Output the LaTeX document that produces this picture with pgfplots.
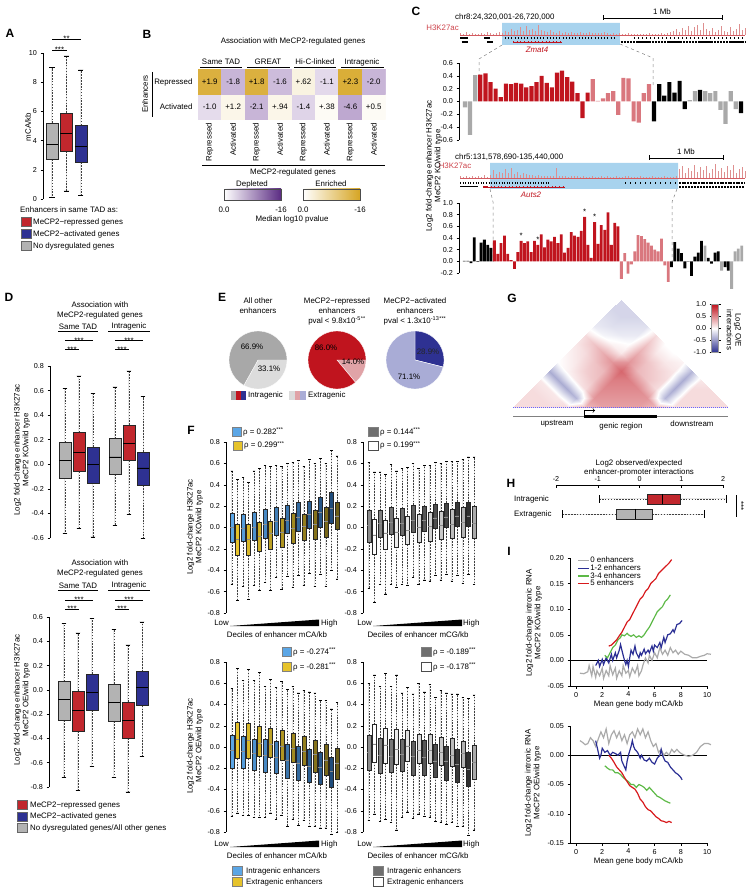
\documentclass[border=0pt]{standalone}
\usepackage{pgfplots}
\pgfplotsset{compat=1.18}
\usepackage{pgfplotstable}
\usepgfplotslibrary{statistics}
\usepackage{fontspec}
\setmainfont{Liberation Sans}

\definecolor{bgray}{HTML}{B3B3B3}
\definecolor{bred}{HTML}{C1272D}
\definecolor{bblue}{HTML}{2E3192}
\definecolor{cred}{HTML}{C0141E}
\definecolor{cpink}{HTML}{D9777E}
\definecolor{cgray}{HTML}{A9A9A9}
\definecolor{trk}{HTML}{DE8F8F}
\definecolor{hl}{HTML}{A8D3EE}
\definecolor{pdark}{HTML}{5B2C83}
\definecolor{gold}{HTML}{D6A523}
\definecolor{egray}{HTML}{A8A8A8}
\definecolor{elgray}{HTML}{DCDCDC}
\definecolor{epink}{HTML}{E0A3A7}
\definecolor{elblue}{HTML}{A9ACD6}
\definecolor{blo}{HTML}{5BA6E6}
\definecolor{bhi}{HTML}{1F4C7C}
\definecolor{ylo}{HTML}{E6C32B}
\definecolor{yhi}{HTML}{6B5D17}
\definecolor{glo}{HTML}{8A8A8A}
\definecolor{ghi}{HTML}{2F2F2F}
\definecolor{wlo}{HTML}{FFFFFF}
\definecolor{whi}{HTML}{ABABAB}
\definecolor{inavy}{HTML}{2B2F94}
\definecolor{igreen}{HTML}{5DB947}
\definecolor{ired}{HTML}{D7191C}
\definecolor{igray}{HTML}{AAAAAA}

\colorlet{fA0}{blo}\colorlet{fA1}{ylo}
\colorlet{fA2}{blo!89!bhi}\colorlet{fA3}{ylo!89!yhi}
\colorlet{fA4}{blo!78!bhi}\colorlet{fA5}{ylo!78!yhi}
\colorlet{fA6}{blo!67!bhi}\colorlet{fA7}{ylo!67!yhi}
\colorlet{fA8}{blo!56!bhi}\colorlet{fA9}{ylo!56!yhi}
\colorlet{fA10}{blo!44!bhi}\colorlet{fA11}{ylo!44!yhi}
\colorlet{fA12}{blo!33!bhi}\colorlet{fA13}{ylo!33!yhi}
\colorlet{fA14}{blo!22!bhi}\colorlet{fA15}{ylo!22!yhi}
\colorlet{fA16}{blo!11!bhi}\colorlet{fA17}{ylo!11!yhi}
\colorlet{fA18}{bhi}\colorlet{fA19}{yhi}
\colorlet{fB0}{glo}\colorlet{fB1}{wlo}
\colorlet{fB2}{glo!89!ghi}\colorlet{fB3}{wlo!89!whi}
\colorlet{fB4}{glo!78!ghi}\colorlet{fB5}{wlo!78!whi}
\colorlet{fB6}{glo!67!ghi}\colorlet{fB7}{wlo!67!whi}
\colorlet{fB8}{glo!56!ghi}\colorlet{fB9}{wlo!56!whi}
\colorlet{fB10}{glo!44!ghi}\colorlet{fB11}{wlo!44!whi}
\colorlet{fB12}{glo!33!ghi}\colorlet{fB13}{wlo!33!whi}
\colorlet{fB14}{glo!22!ghi}\colorlet{fB15}{wlo!22!whi}
\colorlet{fB16}{glo!11!ghi}\colorlet{fB17}{wlo!11!whi}
\colorlet{fB18}{ghi}\colorlet{fB19}{whi}

\newcommand\tk{\fontsize{7.2}{8}\selectfont}
\newcommand\lb{\fontsize{7.9}{8.8}\selectfont}
\newcommand\pl{\fontsize{12}{13}\selectfont\bfseries}

\pgfplotsset{
  every axis/.append style={
    scale only axis, anchor=south west,
    tick align=outside, major tick length=2.5pt,
    tick style={black, line width=0.5pt},
    axis line style={line width=0.7pt},
    ticklabel style={font=\tk},
    label style={font=\lb},
    /pgf/number format/assume math mode=true,
  },
  boxplot/draw/lower whisker/.code={%
    \draw[black!75, line width=0.45pt, dash pattern=on 1.6pt off 1.3pt]
      (boxplot cs:\pgfplotsboxplotvalue{lower quartile}) -- (boxplot cs:\pgfplotsboxplotvalue{lower whisker});
    \draw[black, line width=0.5pt]
      (boxplot whisker cs:\pgfplotsboxplotvalue{lower whisker},0) -- (boxplot whisker cs:\pgfplotsboxplotvalue{lower whisker},1);
  },
  boxplot/draw/upper whisker/.code={%
    \draw[black!75, line width=0.45pt, dash pattern=on 1.6pt off 1.3pt]
      (boxplot cs:\pgfplotsboxplotvalue{upper quartile}) -- (boxplot cs:\pgfplotsboxplotvalue{upper whisker});
    \draw[black, line width=0.5pt]
      (boxplot whisker cs:\pgfplotsboxplotvalue{upper whisker},0) -- (boxplot whisker cs:\pgfplotsboxplotvalue{upper whisker},1);
  },
  boxplot/every median/.style={black, line width=0.6pt},
  onedec/.style={yticklabel style={/pgf/number format/.cd, fixed, fixed zerofill, precision=1}},
  vbox/.style={boxplot/draw direction=y},
}
\newcommand\bxp[7]{\addplot[boxplot prepared={draw position=#1, lower whisker=#2, lower quartile=#3, median=#4, upper quartile=#5, upper whisker=#6}, fill=#7, draw=black!85, line width=0.4pt] coordinates {};}
\newcommand\sig[4]{\draw[line width=0.5pt] (#1,-#3) -- (#2,-#3); \node[font=\lb, anchor=base, inner sep=0pt] at ({(#1+#2)/2},{-#3-2.6}) {#4};}

\pgfplotstableread{
a b v
0 0 0.15
0 1 0.15
0 2 0.15
0 3 0.1
0 4 -0.4
0 5 0.0
0 6 0.05
0 7 0.1
0 8 0.15
0 9 -0.1
0 10 -0.15
0 11 -0.2
0 12 -0.2
1 0 0
1 1 0.15
1 2 0.15
1 3 0.1
1 4 -0.4
1 5 0.05
1 6 0.1
1 7 0.15
1 8 0.25
1 9 -0.05
1 10 -0.15
1 11 -0.2
1 12 -0.2
2 0 0
2 1 0
2 2 0.15
2 3 0.1
2 4 -0.4
2 5 0.1
2 6 0.2
2 7 0.25
2 8 0.35
2 9 0.05
2 10 -0.1
2 11 -0.15
2 12 -0.2
3 0 0
3 1 0
3 2 0
3 3 0.15
3 4 -0.35
3 5 0.15
3 6 0.25
3 7 0.3
3 8 0.45
3 9 0.1
3 10 0.0
3 11 -0.1
3 12 -0.15
4 0 0
4 1 0
4 2 0
4 3 0
4 4 0.3
4 5 0.45
4 6 0.5
4 7 0.55
4 8 0.65
4 9 0.45
4 10 0.35
4 11 0.25
4 12 0.15
5 0 0
5 1 0
5 2 0
5 3 0
5 4 0
5 5 0.4
5 6 0.45
5 7 0.5
5 8 0.55
5 9 0.3
5 10 0.25
5 11 0.1
5 12 0.0
6 0 0
6 1 0
6 2 0
6 3 0
6 4 0
6 5 0
6 6 0.4
6 7 0.45
6 8 0.5
6 9 0.25
6 10 0.2
6 11 0.1
6 12 0.0
7 0 0
7 1 0
7 2 0
7 3 0
7 4 0
7 5 0
7 6 0
7 7 0.4
7 8 0.45
7 9 0.15
7 10 0.15
7 11 0.1
7 12 0.05
8 0 0
8 1 0
8 2 0
8 3 0
8 4 0
8 5 0
8 6 0
8 7 0
8 8 0.3
8 9 -0.35
8 10 -0.4
8 11 -0.4
8 12 -0.35
9 0 0
9 1 0
9 2 0
9 3 0
9 4 0
9 5 0
9 6 0
9 7 0
9 8 0
9 9 0.15
9 10 0.15
9 11 0.15
9 12 0.1
10 0 0
10 1 0
10 2 0
10 3 0
10 4 0
10 5 0
10 6 0
10 7 0
10 8 0
10 9 0
10 10 0.15
10 11 0.15
10 12 0.15
11 0 0
11 1 0
11 2 0
11 3 0
11 4 0
11 5 0
11 6 0
11 7 0
11 8 0
11 9 0
11 10 0
11 11 0.15
11 12 0.15
12 0 0
12 1 0
12 2 0
12 3 0
12 4 0
12 5 0
12 6 0
12 7 0
12 8 0
12 9 0
12 10 0
12 11 0
12 12 0.15
}\Gdata

\begin{document}
\begin{tikzpicture}[x=1pt,y=1pt]
\path (0,0) rectangle (750,-890);

% ================= A
\node[font=\pl] at (10,-33) {A};
\begin{axis}[at={(43pt,-199pt)}, width=52pt, height=146pt, xmin=0.38, xmax=3.97, ymin=0, ymax=10,
  axis y line*=left, axis x line=none, xtick=\empty, ytick={0,2,4,6,8,10}, vbox,
  boxplot/box extend=0.83, boxplot/whisker extend=0.35, clip=false]
\bxp{1}{0.1}{2.7}{3.75}{5.2}{9.0}{bgray}
\bxp{2}{0.55}{3.25}{4.5}{5.9}{9.8}{bred}
\bxp{3}{0.25}{2.5}{3.6}{5.05}{8.85}{bblue}
\end{axis}
\node[font=\lb, rotate=90] at (28,-127) {mCA/kb};
\sig{52}{67}{50}{***}
\sig{52}{81}{39}{**}
\node[font=\lb, anchor=west, inner sep=0pt] at (20,-210) {Enhancers in same TAD as:};
\filldraw[fill=bred, draw=black!60, line width=0.3pt] (21,-217.5) rectangle (31,-226.5);
\node[font=\lb, anchor=west, inner sep=0pt] at (33,-222) {MeCP2−repressed genes};
\filldraw[fill=bblue, draw=black!60, line width=0.3pt] (21,-229.5) rectangle (31,-238.5);
\node[font=\lb, anchor=west, inner sep=0pt] at (33,-234) {MeCP2−activated genes};
\filldraw[fill=bgray, draw=black!60, line width=0.3pt] (21,-241.5) rectangle (31,-250.5);
\node[font=\lb, anchor=west, inner sep=0pt] at (33,-246) {No dysregulated genes};

% ================= B
\node[font=\pl] at (147,-34) {B};
\node[font=\lb] at (293,-41) {Association with MeCP2-regulated genes};
\node[font=\lb] at (221,-62) {Same TAD};
\node[font=\lb] at (268,-62) {GREAT};
\node[font=\lb] at (315,-62) {Hi-C-linked};
\node[font=\lb] at (362,-62) {Intragenic};
\foreach \a/\b in {200/242,247/290,294/336,341/384} {\draw[line width=0.5pt] (\a,-67) -- (\b,-67);}
\begin{axis}[at={(198pt,-119.5pt)}, width=187.5pt, height=50pt, xmin=0.5, xmax=8.5, ymin=0.5, ymax=2.5, hide axis,
  colormap={bmap}{rgb255=(96,40,140) rgb255=(255,255,255) rgb255=(214,165,35)}, point meta min=-16, point meta max=16]
\addplot[matrix plot*, mesh/cols=8, point meta=explicit] table[meta=m]{
x y m
1 1 -2.6
2 1 1.6
3 1 -5.5
4 1 1.6
5 1 -3.2
6 1 0.7
7 1 -6.5
8 1 0.7
1 2 14
2 2 -5.5
3 2 14
4 2 -5
5 2 2.2
6 2 -2.8
7 2 14.5
8 2 -5.5
};
\node[font=\lb] at (axis cs:1,2) {+1.9};
\node[font=\lb] at (axis cs:2,2) {-1.8};
\node[font=\lb] at (axis cs:3,2) {+1.8};
\node[font=\lb] at (axis cs:4,2) {-1.6};
\node[font=\lb] at (axis cs:5,2) {+.62};
\node[font=\lb] at (axis cs:6,2) {-1.1};
\node[font=\lb] at (axis cs:7,2) {+2.3};
\node[font=\lb] at (axis cs:8,2) {-2.0};
\node[font=\lb] at (axis cs:1,1) {-1.0};
\node[font=\lb] at (axis cs:2,1) {+1.2};
\node[font=\lb] at (axis cs:3,1) {-2.1};
\node[font=\lb] at (axis cs:4,1) {+.94};
\node[font=\lb] at (axis cs:5,1) {-1.4};
\node[font=\lb] at (axis cs:6,1) {+.38};
\node[font=\lb] at (axis cs:7,1) {-4.6};
\node[font=\lb] at (axis cs:8,1) {+0.5};
\end{axis}
\node[font=\lb, anchor=east] at (196,-82) {Repressed};
\node[font=\lb, anchor=east] at (196,-107) {Activated};
\node[font=\lb, rotate=90] at (145,-94) {Enhancers};
\draw[line width=0.5pt] (152,-72) -- (152,-117);
\foreach \x/\t in {209.7/Repressed,233.1/Activated,256.6/Repressed,280/Activated,303.4/Repressed,326.9/Activated,350.3/Repressed,373.8/Activated}
  {\node[font=\lb, rotate=90, anchor=east, inner sep=1pt] at (\x,-122) {\t};}
\draw[line width=0.5pt] (202,-165) -- (385,-165);
\node[font=\lb] at (293,-172.5) {MeCP2-regulated genes};
\node[font=\lb] at (252,-184) {Depleted};
\shade[left color=white, right color=pdark] (224,-189) rectangle (281,-200);
\draw[black!70, line width=0.4pt] (224,-189) rectangle (281,-200);
\node[font=\lb] at (224,-209.5) {0.0};
\node[font=\lb] at (281,-209.5) {-16};
\node[font=\lb] at (331,-184) {Enriched};
\shade[left color=white, right color=gold] (303,-189) rectangle (360,-200);
\draw[black!70, line width=0.4pt] (303,-189) rectangle (360,-200);
\node[font=\lb] at (303,-209.5) {0.0};
\node[font=\lb] at (360,-209.5) {-16};
\node[font=\lb] at (292,-219.5) {Median log10 pvalue};

% ================= C
\node[font=\pl] at (416,-11) {C};
\node[font=\lb, anchor=west, inner sep=0pt] at (455,-17) {chr8:24,320,001-26,720,000};
\draw[line width=0.6pt] (603,-18) -- (722,-18); \draw[line width=0.6pt] (603,-15.5) -- (603,-20.5); \draw[line width=0.6pt] (722,-15.5) -- (722,-20.5);
\node[font=\lb] at (662,-12) {1 Mb};
\node[font=\lb, text=cred!80, anchor=east, inner sep=0pt] at (459,-28) {H3K27ac};
\begin{axis}[at={(460pt,-45pt)}, width=285pt, height=24pt, xmin=0, xmax=95, ymin=-10, ymax=14, hide axis, clip=false]
\addplot[fill=hl, draw=none] coordinates {(14,-10)(14,12)(53.3,12)(53.3,-10)(14,-10)};
\addplot[ycomb, trk, line width=0.8pt] coordinates {(0,2)(1,1)(2,3)(3,1)(4,2)(5,1)(6,1)(7,2)(8,1)(9,3)(10,2)(11,1)(12,2)(13,3)(14,2)(15,4)(16,3)(17,6)(18,4)(19,5)(20,8)(21,4)(22,9)(23,5)(24,6)(25,4)(26,10)(27,5)(28,4)(29,3)(30,5)(31,3)(32,2)(33,4)(34,2)(35,3)(36,2)(37,3)(38,2)(39,2)(40,3)(41,2)(42,2)(43,3)(44,2)(45,2)(46,2)(47,2)(48,3)(49,2)(50,1)(51,2)(52,1)(53,2)(54,1)(55,1)(56,2)(57,1)(58,1)(59,1)(60,1)(61,1)(62,1)(63,2)(64,1)(65,1)(66,1)(67,2)(68,1)(69,2)(70,3)(71,4)(72,6)(73,3)(74,7)(75,5)(76,9)(77,4)(78,8)(79,10)(80,5)(81,12)(82,6)(83,4)(84,7)(85,3)(86,5)(87,9)(88,4)(89,3)(90,8)(91,4)(92,6)(93,11)(94,5)(95,7)};
\addplot[cred!70, line width=0.5pt] coordinates {(0,0)(95,0)};
\addplot[black, line width=1.3pt] coordinates {(0,-3)(2.5,-3)};
\addplot[black, line width=1.3pt] coordinates {(8,-3)(10,-3)};
\addplot[black, line width=1.3pt, dash pattern=on 1pt off 2.2pt] coordinates {(15,-3)(52,-3)};
\addplot[black, line width=1.3pt, dash pattern=on 1pt off 3pt] coordinates {(58,-3)(95,-3)};
\addplot[black, line width=1.3pt] coordinates {(0.5,-7)(2.5,-7)};
\addplot[black, line width=1.3pt] coordinates {(9,-7)(11,-7)};
\addplot[black, line width=1.3pt, dash pattern=on 2.5pt off 0.6pt] coordinates {(53.5,-7)(95,-7)};
\addplot[cred, line width=0.6pt] coordinates {(17.7,-7)(34,-7)};
\addplot[cred, line width=1.8pt, dash pattern=on 0.6pt off 3pt] coordinates {(17.7,-7)(34,-7)};
\end{axis}
\node[font=\lb\itshape, text=cred] at (537,-49.5) {Zmat4};
\draw[gray, dashed, line width=0.5pt] (502,-45) -- (479,-59) -- (479,-75);
\draw[gray, dashed, line width=0.5pt] (620,-44) -- (653,-58) -- (653,-88);
\begin{axis}[at={(459pt,-140pt)}, width=286pt, height=77pt, xmin=-0.17, xmax=55.8, ymin=-0.6, ymax=0.6,
  axis y line*=left, axis x line=none, xtick=\empty, ytick={-0.6,-0.4,-0.2,0,0.2,0.4,0.6}, onedec, clip=false]
\addplot[ybar, bar width=4.2pt, bar shift=0pt, fill=cgray, draw=none] coordinates {(1,-0.09)(2,-0.52)(3,0.41)(45,0.02)(46,0.16)(48,0.16)(49,0.13)(50,0.16)(51,-0.13)(52,-0.35)(53,0.16)(54,-0.12)};
\addplot[ybar, bar width=4.2pt, bar shift=0pt, fill=cred, draw=none] coordinates {(4,0.42)(5,0.44)(6,0.30)(7,0.20)(8,0.07)(9,0.28)(10,0.27)(11,0.29)(12,0.28)(13,0.22)(14,0.24)(15,0.30)(16,0.40)(17,0.29)(18,0.22)(19,0.45)(20,0.48)(21,0.38)(22,0.31)(23,0.13)(24,-0.26)(25,0.14)};
\addplot[ybar, bar width=4.2pt, bar shift=0pt, fill=cpink, draw=none] coordinates {(26,0.35)(27,0.01)(28,0.05)(29,0.13)(30,0.16)(31,-0.21)(32,0.37)(33,0.36)(34,-0.31)(35,-0.33)(36,0.13)(37,0.27)};
\addplot[ybar, bar width=4.2pt, bar shift=0pt, fill=black, draw=none] coordinates {(38,-0.31)(39,0.27)(40,0.09)(41,0.30)(42,0.14)(43,0.32)(44,-0.12)(47,0.18)(55,-0.18)};
\end{axis}
\node[font=\lb, anchor=west, inner sep=0pt] at (455,-157) {chr5:131,578,690-135,440,000};
\draw[line width=0.6pt] (649,-158) -- (723,-158); \draw[line width=0.6pt] (649,-155.5) -- (649,-160.5); \draw[line width=0.6pt] (723,-155.5) -- (723,-160.5);
\node[font=\lb] at (686,-152) {1 Mb};
\node[font=\lb, text=cred!80] at (455,-166) {H3K27ac};
\begin{axis}[at={(460pt,-190pt)}, width=285pt, height=28pt, xmin=0, xmax=95, ymin=-12, ymax=16, hide axis, clip=false]
\addplot[fill=hl, draw=none] coordinates {(10,-11)(10,15)(72.7,15)(72.7,-11)(10,-11)};
\addplot[ycomb, trk, line width=0.8pt] coordinates {(0,2)(1,1)(2,2)(3,1)(4,2)(5,1)(6,2)(7,1)(8,3)(9,1)(10,3)(11,8)(12,4)(13,6)(14,5)(15,9)(16,5)(17,10)(18,4)(19,6)(20,3)(21,5)(22,4)(23,3)(24,3)(25,2)(26,3)(27,2)(28,2)(29,2)(30,2)(31,2)(32,10)(33,2)(34,2)(35,2)(36,1)(37,2)(38,2)(39,2)(40,1)(41,2)(42,1)(43,1)(44,2)(45,1)(46,1)(47,2)(48,1)(49,2)(50,1)(51,1)(52,2)(53,1)(54,1)(55,2)(56,2)(57,1)(58,1)(59,1)(60,2)(61,1)(62,1)(63,1)(64,2)(65,1)(66,1)(67,1)(68,2)(69,1)(70,1)(71,1)(72,2)(73,9)(74,12)(75,5)(76,10)(77,7)(78,13)(79,6)(80,11)(81,8)(82,12)(83,5)(84,9)(85,14)(86,7)(87,10)(88,6)(89,12)(90,8)(91,13)(92,5)(93,9)(94,11)(95,7)};
\addplot[cred!70, line width=0.5pt] coordinates {(0,0)(95,0)};
\addplot[black, line width=1.3pt, dash pattern=on 1pt off 1.6pt] coordinates {(0,-5)(30,-5)};
\addplot[black, line width=1.3pt, dash pattern=on 1pt off 4pt] coordinates {(55,-5)(72,-5)};
\addplot[black, line width=1.3pt, dash pattern=on 2pt off 0.7pt] coordinates {(73,-5)(95,-5)};
\addplot[black, line width=1.3pt, dash pattern=on 2pt off 1pt] coordinates {(73,-9)(95,-9)};
\addplot[black, line width=1pt] coordinates {(0,-9)(6,-9)};
\addplot[cred, line width=0.6pt] coordinates {(7.7,-9)(35,-9)};
\addplot[cred, line width=2pt] coordinates {(7.7,-9)(9,-9)};
\addplot[cred, line width=1.8pt, dash pattern=on 0.6pt off 3pt] coordinates {(9,-9)(35,-9)};
\end{axis}
\node[font=\lb\itshape, text=cred] at (531,-194.5) {Auts2};
\draw[gray, dashed, line width=0.5pt] (490,-189) -- (493,-202) -- (493,-262);
\draw[gray, dashed, line width=0.5pt] (677,-189) -- (672,-202) -- (672,-262);
\begin{axis}[at={(459pt,-273pt)}, width=286pt, height=70pt, xmin=-0.59, xmax=85, ymin=-0.2, ymax=1.0,
  axis y line*=left, axis x line=none, xtick=\empty, ytick={-0.2,0,0.2,0.4,0.6,0.8,1.0}, onedec, clip=false]
\addplot[ybar, bar width=2.8pt, bar shift=0pt, fill=black, draw=none] coordinates {(1,0.01)(2,0.01)(3,-0.03)(4,0.41)(5,-0.01)(6,0.32)(7,0.37)(8,0.28)(9,0.23)(63,-0.10)(64,0.33)(65,0.22)(66,0.14)(67,-0.12)(68,0.005)(69,-0.25)(70,0.08)(71,0.15)(72,0.35)(74,0.06)(75,-0.04)(76,0.15)(77,0.17)(79,-0.10)(80,-0.16)};
\addplot[ybar, bar width=2.8pt, bar shift=0pt, fill=cred, draw=none] coordinates {(10,0.36)(11,0.13)(12,0.31)(13,0.44)(14,0.13)(15,0.02)(16,-0.13)(17,0.16)(18,0.35)(19,0.31)(20,0.34)(21,0.16)(22,0.35)(23,0.28)(24,0.46)(25,0.24)(26,0.37)(27,0.34)(28,0.42)(29,0.31)(30,0.46)(31,0.15)(32,0.23)(33,0.50)(34,0.44)(35,0.42)(36,0.52)(37,0.76)(38,0.28)(39,0.06)(40,0.67)(41,0.30)(42,0.62)(43,0.54)(44,0.84)(45,0.28)(46,0.66)(47,0.60)};
\addplot[ybar, bar width=2.8pt, bar shift=0pt, fill=cpink, draw=none] coordinates {(48,-0.30)(49,0.14)(50,-0.21)(51,-0.05)(52,0.17)(53,0.45)(54,0.43)(55,0.38)(56,0.32)(57,0.27)(58,0.20)(59,0.17)(60,0.39)(61,-0.07)(62,-0.35)};
\addplot[ybar, bar width=2.8pt, bar shift=0pt, fill=cgray, draw=none] coordinates {(73,0.27)(78,-0.16)(81,-0.47)(82,0.17)(83,0.22)(84,0.27)};
\node[font=\lb] at (axis cs:18,0.44) {*};
\node[font=\lb] at (axis cs:23,0.37) {*};
\node[font=\lb] at (axis cs:37,0.85) {*};
\node[font=\lb] at (axis cs:40,0.76) {*};
\end{axis}
\node[font=\lb, rotate=90, align=center] at (434,-166) {Log2 fold-change enhancer H3K27ac\\MeCP2 KO/wild type};

% ================= D
\node[font=\pl] at (9,-297) {D};
\node[font=\lb] at (100,-305) {Association with};
\node[font=\lb] at (100,-315) {MeCP2-regulated genes};
\node[font=\lb] at (78,-326.5) {Same TAD};
\node[font=\lb] at (129,-326.5) {Intragenic};
\draw[line width=0.5pt] (58,-331.5) -- (98,-331.5); \draw[line width=0.5pt] (108,-331.5) -- (150,-331.5);
\sig{65}{93}{340.5}{***}
\sig{65}{79}{349.5}{***}
\sig{115}{143}{340.5}{***}
\sig{115}{129}{349.5}{***}
\begin{axis}[at={(50pt,-538pt)}, width=100pt, height=172pt, xmin=-0.07, xmax=7.07, ymin=-0.6, ymax=0.8,
  axis y line*=left, axis x line=none, xtick=\empty, ytick={-0.6,-0.4,-0.2,0,0.2,0.4,0.6,0.8}, onedec, vbox,
  boxplot/box extend=0.85, boxplot/whisker extend=0.35, clip=false]
\bxp{1}{-0.56}{-0.11}{0.03}{0.18}{0.62}{bgray}
\bxp{2}{-0.52}{-0.06}{0.10}{0.26}{0.72}{bred}
\bxp{3}{-0.59}{-0.15}{0.00}{0.14}{0.58}{bblue}
\bxp{4.57}{-0.50}{-0.08}{0.06}{0.21}{0.63}{bgray}
\bxp{5.57}{-0.41}{0.03}{0.17}{0.32}{0.76}{bred}
\bxp{6.57}{-0.60}{-0.17}{-0.03}{0.10}{0.55}{bblue}
\end{axis}
\node[font=\lb, rotate=90, align=center] at (22,-450) {Log2 fold-change enhancer H3K27ac\\MeCP2 KO/wild type};
\node[font=\lb] at (100,-563) {Association with};
\node[font=\lb] at (100,-573) {MeCP2-regulated genes};
\node[font=\lb] at (78,-585.5) {Same TAD};
\node[font=\lb] at (129,-585.5) {Intragenic};
\draw[line width=0.5pt] (58,-590.5) -- (98,-590.5); \draw[line width=0.5pt] (108,-590.5) -- (150,-590.5);
\sig{65}{93}{600}{***}
\sig{65}{79}{609}{***}
\sig{115}{143}{600}{***}
\sig{115}{129}{609}{***}
\begin{axis}[at={(49pt,-787pt)}, width=100pt, height=170pt, xmin=-0.07, xmax=7.07, ymin=-0.8, ymax=0.6,
  axis y line*=left, axis x line=none, xtick=\empty, ytick={-0.8,-0.6,-0.4,-0.2,0,0.2,0.4,0.6}, onedec, vbox,
  boxplot/box extend=0.85, boxplot/whisker extend=0.35, clip=false]
\bxp{1}{-0.72}{-0.25}{-0.08}{0.07}{0.55}{bgray}
\bxp{2}{-0.83}{-0.34}{-0.17}{-0.01}{0.47}{bred}
\bxp{3}{-0.63}{-0.17}{-0.02}{0.13}{0.59}{bblue}
\bxp{4.57}{-0.72}{-0.26}{-0.10}{0.05}{0.50}{bgray}
\bxp{5.57}{-0.84}{-0.40}{-0.25}{-0.10}{0.37}{bred}
\bxp{6.57}{-0.55}{-0.13}{0.02}{0.15}{0.56}{bblue}
\end{axis}
\node[font=\lb, rotate=90, align=center] at (22,-700) {Log2 fold-change enhancer H3K27ac\\MeCP2 OE/wild type};
\filldraw[fill=bred, draw=black!60, line width=0.3pt] (17,-800.5) rectangle (27,-809.5);
\node[font=\lb, anchor=west, inner sep=0pt] at (30,-805) {MeCP2−repressed genes};
\filldraw[fill=bblue, draw=black!60, line width=0.3pt] (17,-812) rectangle (27,-821);
\node[font=\lb, anchor=west, inner sep=0pt] at (30,-816.5) {MeCP2−activated genes};
\filldraw[fill=bgray, draw=black!60, line width=0.3pt] (17,-823.5) rectangle (27,-832.5);
\node[font=\lb, anchor=west, inner sep=0pt] at (30,-828) {No dysregulated genes/All other genes};

% ================= E
\node[font=\pl] at (222,-297) {E};
\node[font=\lb] at (258,-301) {All other};
\node[font=\lb] at (258,-311) {enhancers};
\node[font=\lb] at (337,-301) {MeCP2−repressed};
\node[font=\lb] at (337,-311) {enhancers};
\node[font=\lb] at (337,-321) {pval < 9.8x10\textsuperscript{-5}\textsuperscript{**}};
\node[font=\lb] at (415,-301) {MeCP2−activated};
\node[font=\lb] at (415,-311) {enhancers};
\node[font=\lb] at (415,-321) {pval < 1.3x10\textsuperscript{-13}\textsuperscript{***}};
\begin{axis}[at={(258pt,-360pt)}, anchor=center, width=58pt, height=58pt, xmin=-1, xmax=1, ymin=-1, ymax=1, hide axis, clip=false]
\addplot[fill=elgray, draw=white, line width=0.4pt, domain=-119.16:0, samples=40] ({cos(x)},{sin(x)}) -- (axis cs:0,0) -- cycle;
\addplot[fill=egray, draw=white, line width=0.4pt, domain=0:240.84, samples=70] ({cos(x)},{sin(x)}) -- (axis cs:0,0) -- cycle;
\end{axis}
\begin{axis}[at={(337pt,-360pt)}, anchor=center, width=58pt, height=58pt, xmin=-1, xmax=1, ymin=-1, ymax=1, hide axis, clip=false]
\addplot[fill=epink, draw=white, line width=0.4pt, domain=-50.4:0, samples=30] ({cos(x)},{sin(x)}) -- (axis cs:0,0) -- cycle;
\addplot[fill=cred, draw=white, line width=0.4pt, domain=0:309.6, samples=80] ({cos(x)},{sin(x)}) -- (axis cs:0,0) -- cycle;
\end{axis}
\begin{axis}[at={(415pt,-360pt)}, anchor=center, width=58pt, height=58pt, xmin=-1, xmax=1, ymin=-1, ymax=1, hide axis, clip=false]
\addplot[fill=bblue, draw=white, line width=0.4pt, domain=-14.04:90, samples=40] ({cos(x)},{sin(x)}) -- (axis cs:0,0) -- cycle;
\addplot[fill=elblue, draw=white, line width=0.4pt, domain=90:345.96, samples=70] ({cos(x)},{sin(x)}) -- (axis cs:0,0) -- cycle;
\end{axis}
\node[font=\lb] at (252,-347) {66.9\%};
\node[font=\lb] at (269,-369) {33.1\%};
\node[font=\lb] at (326,-348) {86.0\%};
\node[font=\lb] at (353,-362) {14.0\%};
\node[font=\lb, text=black!85] at (428,-352) {28.9\%};
\node[font=\lb] at (409,-377) {71.1\%};
\fill[egray] (231,-391) rectangle (236,-400);
\fill[cred] (236,-391) rectangle (241,-400);
\fill[bblue] (241,-391) rectangle (246,-400);
\node[font=\lb, anchor=west, inner sep=0pt] at (248,-395.5) {Intragenic};
\fill[elgray] (289,-391) rectangle (294.5,-400);
\fill[epink] (294.5,-391) rectangle (300,-400);
\fill[elblue] (300,-391) rectangle (305.5,-400);
\node[font=\lb, anchor=west, inner sep=0pt] at (308,-395.5) {Extragenic};

% ================= F
\node[font=\pl] at (191,-430) {F};
\filldraw[fill=blo, draw=black!50, line width=0.3pt] (232,-427.5) rectangle (241,-436.5);
\node[font=\lb, anchor=west, inner sep=0pt] at (243,-432) {ρ = 0.282\textsuperscript{***}};
\filldraw[fill=ylo, draw=black!50, line width=0.3pt] (233,-441) rectangle (242,-450);
\node[font=\lb, anchor=west, inner sep=0pt] at (244,-445.5) {ρ = 0.299\textsuperscript{***}};
\filldraw[fill=glo!70!ghi, draw=black!50, line width=0.3pt] (368,-427.5) rectangle (378,-436.5);
\node[font=\lb, anchor=west, inner sep=0pt] at (380,-432) {ρ = 0.144\textsuperscript{***}};
\filldraw[fill=white, draw=black!70, line width=0.5pt] (368,-441) rectangle (378,-450);
\node[font=\lb, anchor=west, inner sep=0pt] at (380,-445.5) {ρ = 0.199\textsuperscript{***}};
\begin{axis}[at={(226pt,-613pt)}, width=114pt, height=171pt, xmin=-1.08, xmax=19.54, ymin=-0.8, ymax=0.8,
  axis y line*=left, axis x line=none, xtick=\empty, ytick={-0.8,-0.6,-0.4,-0.2,0,0.2,0.4,0.6,0.8}, onedec, vbox,
  boxplot/box extend=0.72, boxplot/whisker extend=0.45, boxplot/every median/.style={black!45, line width=0.5pt}, clip=false]
\bxp{0}{-0.53}{-0.14}{0.00}{0.13}{0.53}{fA0}
\bxp{1}{-0.68}{-0.26}{-0.11}{0.03}{0.45}{fA1}
\bxp{2}{-0.55}{-0.13}{-0.01}{0.12}{0.47}{fA2}
\bxp{3}{-0.67}{-0.26}{-0.11}{0.03}{0.42}{fA3}
\bxp{4}{-0.54}{-0.12}{0.00}{0.14}{0.53}{fA4}
\bxp{5}{-0.59}{-0.22}{-0.08}{0.05}{0.55}{fA5}
\bxp{6}{-0.51}{-0.10}{0.03}{0.17}{0.58}{fA6}
\bxp{7}{-0.59}{-0.20}{-0.05}{0.06}{0.57}{fA7}
\bxp{8}{-0.47}{-0.07}{0.06}{0.19}{0.58}{fA8}
\bxp{9}{-0.58}{-0.18}{-0.04}{0.09}{0.57}{fA9}
\bxp{10}{-0.46}{-0.05}{0.07}{0.21}{0.60}{fA10}
\bxp{11}{-0.56}{-0.15}{-0.01}{0.13}{0.61}{fA11}
\bxp{12}{-0.45}{-0.03}{0.10}{0.24}{0.63}{fA12}
\bxp{13}{-0.54}{-0.12}{0.01}{0.12}{0.57}{fA13}
\bxp{14}{-0.43}{-0.01}{0.12}{0.25}{0.64}{fA14}
\bxp{15}{-0.55}{-0.11}{0.03}{0.16}{0.60}{fA15}
\bxp{16}{-0.44}{0.00}{0.14}{0.28}{0.65}{fA16}
\bxp{17}{-0.55}{-0.09}{0.06}{0.19}{0.60}{fA17}
\bxp{18}{-0.40}{0.04}{0.18}{0.33}{0.72}{fA18}
\bxp{19}{-0.48}{-0.02}{0.11}{0.24}{0.67}{fA19}
\end{axis}
\begin{axis}[at={(363pt,-613pt)}, width=114pt, height=171pt, xmin=-1.08, xmax=19.54, ymin=-0.8, ymax=0.8,
  axis y line*=left, axis x line=none, xtick=\empty, ytick={-0.8,-0.6,-0.4,-0.2,0,0.2,0.4,0.6,0.8}, onedec, vbox,
  boxplot/box extend=0.72, boxplot/whisker extend=0.45, boxplot/every median/.style={black!45, line width=0.5pt}, clip=false]
\bxp{0}{-0.57}{-0.14}{0.02}{0.16}{0.61}{fB0}
\bxp{1}{-0.70}{-0.25}{-0.07}{0.08}{0.52}{fB1}
\bxp{2}{-0.53}{-0.09}{0.04}{0.16}{0.52}{fB2}
\bxp{3}{-0.62}{-0.20}{-0.05}{0.07}{0.50}{fB3}
\bxp{4}{-0.53}{-0.06}{0.05}{0.19}{0.59}{fB4}
\bxp{5}{-0.56}{-0.18}{-0.04}{0.09}{0.53}{fB5}
\bxp{6}{-0.53}{-0.07}{0.04}{0.18}{0.55}{fB6}
\bxp{7}{-0.54}{-0.16}{-0.03}{0.11}{0.56}{fB7}
\bxp{8}{-0.47}{-0.04}{0.07}{0.21}{0.60}{fB8}
\bxp{9}{-0.53}{-0.14}{0.00}{0.12}{0.55}{fB9}
\bxp{10}{-0.49}{-0.03}{0.07}{0.20}{0.58}{fB10}
\bxp{11}{-0.50}{-0.13}{0.01}{0.14}{0.58}{fB11}
\bxp{12}{-0.45}{-0.01}{0.09}{0.22}{0.61}{fB12}
\bxp{13}{-0.49}{-0.11}{0.02}{0.15}{0.60}{fB13}
\bxp{14}{-0.44}{0.00}{0.10}{0.23}{0.62}{fB14}
\bxp{15}{-0.50}{-0.10}{0.03}{0.17}{0.62}{fB15}
\bxp{16}{-0.45}{0.01}{0.11}{0.24}{0.62}{fB16}
\bxp{17}{-0.52}{-0.09}{0.05}{0.19}{0.64}{fB17}
\bxp{18}{-0.44}{0.01}{0.11}{0.24}{0.66}{fB18}
\bxp{19}{-0.53}{-0.10}{0.04}{0.20}{0.66}{fB19}
\end{axis}
\node[font=\lb, rotate=90, align=center] at (195,-527) {Log2 fold-change H3K27ac\\MeCP2 KO/wild type};
\node[font=\lb, anchor=east, inner sep=0pt] at (229,-623) {Low};
\fill[black] (230,-626) -- (319,-626) -- (319,-619.5) -- cycle;
\node[font=\lb, anchor=west, inner sep=0pt] at (321,-623) {High};
\node[font=\lb] at (277,-634.5) {Deciles of enhancer mCA/kb};
\node[font=\lb, anchor=east, inner sep=0pt] at (372,-623) {Low};
\fill[black] (373,-626) -- (462,-626) -- (462,-619.5) -- cycle;
\node[font=\lb, anchor=west, inner sep=0pt] at (463,-623) {High};
\node[font=\lb] at (418,-634.5) {Deciles of enhancer mCG/kb};
\filldraw[fill=blo, draw=black!50, line width=0.3pt] (282,-647.5) rectangle (291,-656.5);
\node[font=\lb, anchor=west, inner sep=0pt] at (293,-652) {ρ = -0.274\textsuperscript{***}};
\filldraw[fill=ylo, draw=black!50, line width=0.3pt] (282,-662.5) rectangle (291,-671.5);
\node[font=\lb, anchor=west, inner sep=0pt] at (293,-667) {ρ = -0.281\textsuperscript{***}};
\filldraw[fill=glo!70!ghi, draw=black!50, line width=0.3pt] (421,-647.5) rectangle (431,-656.5);
\node[font=\lb, anchor=west, inner sep=0pt] at (433,-652) {ρ = -0.189\textsuperscript{***}};
\filldraw[fill=white, draw=black!70, line width=0.5pt] (421,-662.5) rectangle (431,-671.5);
\node[font=\lb, anchor=west, inner sep=0pt] at (433,-667) {ρ = -0.178\textsuperscript{***}};
\begin{axis}[at={(226pt,-832pt)}, width=114pt, height=170pt, xmin=-1.08, xmax=19.54, ymin=-0.8, ymax=0.8,
  axis y line*=left, axis x line=none, xtick=\empty, ytick={-0.8,-0.6,-0.4,-0.2,0,0.2,0.4,0.6,0.8}, onedec, vbox,
  boxplot/box extend=0.72, boxplot/whisker extend=0.45, boxplot/every median/.style={black!45, line width=0.5pt}, clip=false]
\bxp{0}{-0.65}{-0.20}{-0.03}{0.11}{0.55}{fA0}
\bxp{1}{-0.62}{-0.11}{0.07}{0.23}{0.74}{fA1}
\bxp{2}{-0.64}{-0.20}{-0.04}{0.10}{0.63}{fA2}
\bxp{3}{-0.64}{-0.11}{0.06}{0.22}{0.73}{fA3}
\bxp{4}{-0.66}{-0.22}{-0.06}{0.07}{0.63}{fA4}
\bxp{5}{-0.66}{-0.09}{0.04}{0.20}{0.70}{fA5}
\bxp{6}{-0.66}{-0.24}{-0.08}{0.07}{0.57}{fA6}
\bxp{7}{-0.62}{-0.10}{0.03}{0.18}{0.64}{fA7}
\bxp{8}{-0.68}{-0.25}{-0.10}{0.05}{0.56}{fA8}
\bxp{9}{-0.64}{-0.12}{0.01}{0.16}{0.62}{fA9}
\bxp{10}{-0.75}{-0.29}{-0.12}{0.03}{0.54}{fA10}
\bxp{11}{-0.68}{-0.14}{-0.01}{0.13}{0.57}{fA11}
\bxp{12}{-0.74}{-0.31}{-0.15}{0.01}{0.51}{fA12}
\bxp{13}{-0.69}{-0.17}{-0.04}{0.10}{0.53}{fA13}
\bxp{14}{-0.75}{-0.33}{-0.18}{-0.02}{0.52}{fA14}
\bxp{15}{-0.75}{-0.24}{-0.07}{0.06}{0.51}{fA15}
\bxp{16}{-0.76}{-0.35}{-0.19}{-0.05}{0.44}{fA16}
\bxp{17}{-0.76}{-0.27}{-0.12}{0.03}{0.44}{fA17}
\bxp{18}{-0.82}{-0.38}{-0.23}{-0.10}{0.36}{fA18}
\bxp{19}{-0.80}{-0.30}{-0.15}{-0.01}{0.42}{fA19}
\end{axis}
\begin{axis}[at={(363pt,-832pt)}, width=114pt, height=170pt, xmin=-1.08, xmax=19.54, ymin=-0.8, ymax=0.8,
  axis y line*=left, axis x line=none, xtick=\empty, ytick={-0.8,-0.6,-0.4,-0.2,0,0.2,0.4,0.6,0.8}, onedec, vbox,
  boxplot/box extend=0.72, boxplot/whisker extend=0.45, boxplot/every median/.style={black!45, line width=0.5pt}, clip=false]
\bxp{0}{-0.69}{-0.22}{-0.05}{0.11}{0.60}{fB0}
\bxp{1}{-0.63}{-0.14}{0.03}{0.21}{0.68}{fB1}
\bxp{2}{-0.70}{-0.25}{-0.08}{0.08}{0.57}{fB2}
\bxp{3}{-0.68}{-0.15}{0.02}{0.18}{0.69}{fB3}
\bxp{4}{-0.71}{-0.24}{-0.09}{0.07}{0.57}{fB4}
\bxp{5}{-0.78}{-0.16}{-0.02}{0.17}{0.68}{fB5}
\bxp{6}{-0.66}{-0.23}{-0.07}{0.07}{0.51}{fB6}
\bxp{7}{-0.61}{-0.13}{0.01}{0.16}{0.56}{fB7}
\bxp{8}{-0.67}{-0.27}{-0.09}{0.05}{0.50}{fB8}
\bxp{9}{-0.63}{-0.15}{-0.03}{0.12}{0.60}{fB9}
\bxp{10}{-0.65}{-0.27}{-0.10}{0.06}{0.52}{fB10}
\bxp{11}{-0.66}{-0.15}{-0.03}{0.12}{0.59}{fB11}
\bxp{12}{-0.70}{-0.28}{-0.13}{0.03}{0.47}{fB12}
\bxp{13}{-0.71}{-0.17}{-0.05}{0.09}{0.53}{fB13}
\bxp{14}{-0.73}{-0.31}{-0.13}{0.01}{0.51}{fB14}
\bxp{15}{-0.71}{-0.18}{-0.08}{0.08}{0.50}{fB15}
\bxp{16}{-0.75}{-0.33}{-0.16}{-0.02}{0.50}{fB16}
\bxp{17}{-0.75}{-0.19}{-0.06}{0.05}{0.47}{fB17}
\bxp{18}{-0.83}{-0.37}{-0.21}{-0.05}{0.46}{fB18}
\bxp{19}{-0.78}{-0.30}{-0.14}{0.02}{0.49}{fB19}
\end{axis}
\node[font=\lb, rotate=90, align=center] at (195,-746) {Log2 fold-change H3K27ac\\MeCP2 OE/wild type};
\node[font=\lb, anchor=east, inner sep=0pt] at (229,-844) {Low};
\fill[black] (230,-847) -- (319,-847) -- (319,-840.5) -- cycle;
\node[font=\lb, anchor=west, inner sep=0pt] at (321,-844) {High};
\node[font=\lb] at (277,-855.5) {Deciles of enhancer mCA/kb};
\node[font=\lb, anchor=east, inner sep=0pt] at (372,-844) {Low};
\fill[black] (373,-847) -- (462,-847) -- (462,-840.5) -- cycle;
\node[font=\lb, anchor=west, inner sep=0pt] at (463,-844) {High};
\node[font=\lb] at (418,-855.5) {Deciles of enhancer mCG/kb};
\filldraw[fill=blo, draw=black!50, line width=0.3pt] (232,-866.5) rectangle (242,-875.5);
\node[font=\lb, anchor=west, inner sep=0pt] at (246,-871) {Intragenic enhancers};
\filldraw[fill=ylo, draw=black!50, line width=0.3pt] (232,-877.5) rectangle (242,-886.5);
\node[font=\lb, anchor=west, inner sep=0pt] at (246,-882) {Extragenic enhancers};
\filldraw[fill=glo!70!ghi, draw=black!50, line width=0.3pt] (373,-866.5) rectangle (383,-875.5);
\node[font=\lb, anchor=west, inner sep=0pt] at (387,-871) {Intragenic enhancers};
\filldraw[fill=white, draw=black!70, line width=0.5pt] (373,-877.5) rectangle (383,-886.5);
\node[font=\lb, anchor=west, inner sep=0pt] at (387,-882) {Extragenic enhancers};

% ================= G
\node[font=\pl] at (512,-298) {G};
\begin{axis}[at={(513pt,-407pt)}, width=215pt, height=107.5pt, xmin=0, xmax=12, ymin=0, ymax=6, hide axis, view={0}{90},
  colormap={gmap}{rgb255=(43,47,143) rgb255=(255,255,255) rgb255=(192,20,30)}, point meta min=-1, point meta max=1,
  colorbar, colorbar style={at={(parent axis.north east)}, anchor=north west, xshift=-25pt, yshift=-5pt,
    width=7pt, height=48pt, scale only axis, ytick={-1,-0.5,0,0.5,1}, yticklabel pos=left,
    yticklabel style={font=\tk, /pgf/number format/.cd, fixed, fixed zerofill, precision=1, assume math mode=true},
    major tick length=2pt, axis line style={black!40, line width=0.4pt}}]
\addplot3[surf, shader=interp, mesh/cols=13, point meta=explicit] table[x expr={(\thisrow{a}+\thisrow{b})/2}, y expr={(\thisrow{b}-\thisrow{a})/2}, z=v, meta=v]{\Gdata};
\end{axis}
\fill[white] (505,-407.6) rectangle (736,-522);
\node[font=\lb, rotate=-90, align=center] at (734,-330) {Log2 O/E\\interactions};
\draw[blue!60, dash pattern=on 1pt off 1pt, line width=1pt] (513,-407) -- (728,-407);
\draw[black!50, line width=0.8pt] (513,-416) -- (728,-416);
\draw[black, line width=3pt] (584,-416) -- (657,-416);
\draw[black, line width=0.7pt, ->] (584.5,-415) -- (584.5,-410.5) -- (595,-410.5);
\node[font=\lb] at (557,-424) {upstream};
\node[font=\lb] at (621,-426.5) {genic region};
\node[font=\lb] at (692,-424) {downstream};

% ================= H
\node[font=\pl] at (511,-483) {H};
\node[font=\lb] at (639,-463) {Log2 observed/expected};
\node[font=\lb] at (639,-472.5) {enhancer-promoter interactions};
\begin{axis}[at={(556pt,-522pt)}, width=167pt, height=37pt, xmin=-2, xmax=2, ymin=0.47, ymax=2.93,
  axis x line*=top, axis y line=none, xtick={-2,-1,0,1,2}, ytick=\empty, tick align=inside, major tick length=3pt,
  boxplot/draw direction=x, boxplot/box extend=0.67, boxplot/whisker extend=0.5, clip=false]
\bxp{2}{-0.97}{0.18}{0.54}{0.97}{2.08}{bred}
\bxp{1}{-1.84}{-0.56}{-0.09}{0.30}{1.55}{bgray}
\end{axis}
\node[font=\lb, anchor=west, inner sep=0pt] at (514,-499) {Intragenic};
\node[font=\lb, anchor=west, inner sep=0pt] at (514,-514) {Extragenic};
\draw[line width=0.5pt] (736,-495) -- (736,-517);
\node[font=\lb, rotate=-90, inner sep=0pt] at (741,-506) {***};

% ================= I
\node[font=\pl] at (509,-551) {I};
\begin{axis}[at={(570pt,-686pt)}, width=137pt, height=128pt, xmin=-0.46, xmax=10, ymin=-0.05, ymax=0.2,
  axis lines*=left, xtick={0,2,4,6,8,10}, ytick={-0.05,0,0.05,0.1,0.15,0.2},
  yticklabel style={/pgf/number format/.cd, fixed, fixed zerofill, precision=2},
  xlabel={Mean gene body mCA/kb}, xlabel style={yshift=3pt}, clip=false,
  legend style={at={(0.03,1.03)}, anchor=north west, draw=none, fill=none, font=\lb, row sep=-1.2pt, nodes={inner sep=0.8pt}},
  legend cell align=left, legend image code/.code={\draw[#1] (0pt,0pt) -- (11pt,0pt);}]
\addplot[black, line width=0.8pt, forget plot] coordinates {(-0.46,0)(10,0)};
\addplot[igray, line width=1.2pt] coordinates {(0.3,-0.025)(0.6,-0.026)(0.9,-0.022)(1.0,-0.01)(1.2,-0.03)(1.3,-0.012)(1.5,-0.033)(1.6,-0.02)(1.8,-0.03)(2.0,-0.015)(2.1,-0.035)(2.3,-0.02)(2.5,-0.03)(2.6,-0.01)(2.8,-0.028)(3.0,-0.015)(3.1,-0.035)(3.3,-0.02)(3.5,-0.03)(3.6,-0.01)(3.8,-0.025)(4.0,-0.02)(4.1,-0.032)(4.3,-0.015)(4.5,-0.025)(4.7,-0.01)(4.8,-0.03)(5.0,-0.02)(5.1,-0.01)(5.3,0.005)(5.5,-0.005)(5.6,0.01)(5.8,0.0)(6.0,0.015)(6.2,0.005)(6.4,0.025)(6.6,0.012)(6.8,0.02)(7.0,0.01)(7.2,0.025)(7.4,0.015)(7.6,0.02)(7.8,0.012)(8.0,0.018)(8.3,0.012)(8.6,0.01)(8.9,0.005)(9.2,0.005)(9.5,0.008)(9.8,0.01)(10.0,0.013)(10.3,0.012)};
\addlegendentry{0 enhancers}
\addplot[inavy, line width=1.2pt] coordinates {(1.5,-0.01)(1.7,0.0)(1.8,-0.012)(2.0,0.002)(2.1,-0.008)(2.3,0.005)(2.5,-0.005)(2.7,0.012)(2.8,0.0)(3.0,0.015)(3.1,0.005)(3.3,0.02)(3.4,0.031)(3.5,0.02)(3.6,0.01)(3.7,0.0)(3.8,-0.008)(3.9,0.0)(4.0,-0.012)(4.1,0.005)(4.2,0.02)(4.35,0.012)(4.5,0.028)(4.6,0.015)(4.8,0.005)(4.9,0.015)(5.0,0.01)(5.2,0.022)(5.3,0.013)(5.5,0.02)(5.6,0.015)(5.8,0.028)(5.9,0.018)(6.0,0.03)(6.2,0.025)(6.4,0.035)(6.5,0.025)(6.7,0.045)(6.8,0.035)(7.0,0.05)(7.2,0.052)(7.4,0.06)(7.5,0.055)(7.7,0.07)(7.9,0.072)(8.1,0.078)};
\addlegendentry{1-2 enhancers}
\addplot[igreen, line width=1.2pt] coordinates {(2.2,0.01)(2.4,0.005)(2.6,0.015)(2.8,0.025)(3.0,0.03)(3.2,0.04)(3.4,0.045)(3.5,0.05)(3.7,0.048)(3.9,0.053)(4.0,0.05)(4.2,0.047)(4.4,0.05)(4.6,0.045)(4.8,0.048)(5.0,0.045)(5.2,0.05)(5.4,0.058)(5.6,0.065)(5.8,0.075)(6.0,0.085)(6.2,0.095)(6.4,0.1)(6.6,0.105)(6.8,0.115)(7.0,0.12)(7.2,0.128)};
\addlegendentry{3-4 enhancers}
\addplot[ired, line width=1.2pt] coordinates {(2.5,0.028)(2.7,0.03)(2.9,0.035)(3.1,0.04)(3.3,0.048)(3.5,0.055)(3.7,0.065)(3.9,0.075)(4.1,0.08)(4.3,0.09)(4.5,0.1)(4.7,0.11)(4.9,0.12)(5.1,0.125)(5.3,0.135)(5.5,0.14)(5.7,0.15)(5.9,0.155)(6.1,0.16)(6.3,0.17)(6.5,0.175)(6.7,0.18)(6.9,0.185)(7.1,0.19)(7.3,0.197)};
\addlegendentry{5 enhancers}
\end{axis}
\node[font=\lb, rotate=90, align=center] at (534,-623) {Log2 fold-change intronic RNA\\MeCP2 KO/wild type};
\begin{axis}[at={(570pt,-843pt)}, width=137pt, height=117pt, xmin=-0.46, xmax=10, ymin=-0.15, ymax=0.05,
  axis lines*=left, xtick={0,2,4,6,8,10}, ytick={-0.15,-0.1,-0.05,0,0.05},
  yticklabel style={/pgf/number format/.cd, fixed, fixed zerofill, precision=2},
  xlabel={Mean gene body mCA/kb}, xlabel style={yshift=3pt}, clip=false]
\addplot[black, line width=0.8pt] coordinates {(-0.46,0)(10,0)};
\addplot[igray, line width=1.2pt] coordinates {(0.3,0.025)(0.5,0.022)(0.7,0.018)(0.9,0.02)(1.1,0.03)(1.3,0.025)(1.5,0.015)(1.7,0.028)(1.9,0.04)(2.1,0.03)(2.3,0.045)(2.5,0.02)(2.7,0.035)(2.9,0.042)(3.1,0.03)(3.3,0.04)(3.5,0.025)(3.7,0.035)(3.9,0.02)(4.1,0.035)(4.3,0.04)(4.5,0.03)(4.7,0.045)(4.9,0.035)(5.1,0.045)(5.3,0.03)(5.5,0.04)(5.7,0.025)(5.9,0.015)(6.1,0.02)(6.3,0.005)(6.5,0.01)(6.7,0.0)(6.9,0.005)(7.1,0.0)(7.3,0.01)(7.5,0.005)(7.7,0.01)(7.9,0.005)(8.1,0.002)(8.3,0.0)(8.6,-0.002)(8.9,0.0)(9.2,0.005)(9.5,0.015)(9.8,0.02)(10.1,0.02)(10.3,0.018)};
\addplot[inavy, line width=1.2pt] coordinates {(1.5,0.025)(1.6,0.015)(1.7,0.005)(1.8,-0.005)(1.9,0.0)(2.0,0.012)(2.2,0.005)(2.4,0.008)(2.6,0.0)(2.8,0.005)(3.0,0.003)(3.2,0.0)(3.4,0.005)(3.5,-0.01)(3.7,-0.02)(3.8,-0.025)(3.9,-0.01)(4.0,0.0)(4.2,0.015)(4.3,0.025)(4.4,0.015)(4.5,0.01)(4.7,0.005)(4.9,-0.005)(5.0,0.0)(5.2,-0.008)(5.4,-0.01)(5.6,-0.005)(5.8,-0.012)(6.0,-0.015)(6.2,-0.005)(6.4,0.0)(6.5,0.01)(6.6,0.0)(6.8,-0.01)(7.0,-0.012)(7.2,-0.02)(7.4,-0.025)(7.6,-0.03)(7.8,-0.033)(8.0,-0.038)(8.1,-0.042)};
\addplot[igreen, line width=1.2pt] coordinates {(2.2,-0.018)(2.4,-0.022)(2.6,-0.025)(2.8,-0.025)(3.0,-0.03)(3.2,-0.03)(3.4,-0.033)(3.6,-0.038)(3.8,-0.042)(4.0,-0.045)(4.2,-0.05)(4.4,-0.05)(4.6,-0.055)(4.8,-0.05)(5.0,-0.052)(5.2,-0.055)(5.4,-0.06)(5.6,-0.055)(5.8,-0.06)(6.0,-0.065)(6.2,-0.07)(6.4,-0.072)(6.6,-0.075)(6.8,-0.078)(7.0,-0.08)(7.2,-0.082)};
\addplot[ired, line width=1.2pt] coordinates {(2.5,0.0)(2.7,-0.005)(2.9,-0.012)(3.1,-0.02)(3.3,-0.025)(3.5,-0.03)(3.7,-0.038)(3.9,-0.045)(4.1,-0.052)(4.3,-0.055)(4.5,-0.058)(4.7,-0.065)(4.9,-0.075)(5.1,-0.08)(5.3,-0.088)(5.5,-0.093)(5.7,-0.095)(5.9,-0.1)(6.1,-0.105)(6.3,-0.108)(6.5,-0.112)(6.7,-0.113)(6.9,-0.115)(7.1,-0.113)(7.3,-0.115)};
\end{axis}
\node[font=\lb, rotate=90, align=center] at (533,-783) {Log2 fold-change intronic RNA\\MeCP2 OE/wild type};

\end{tikzpicture}
\end{document}
